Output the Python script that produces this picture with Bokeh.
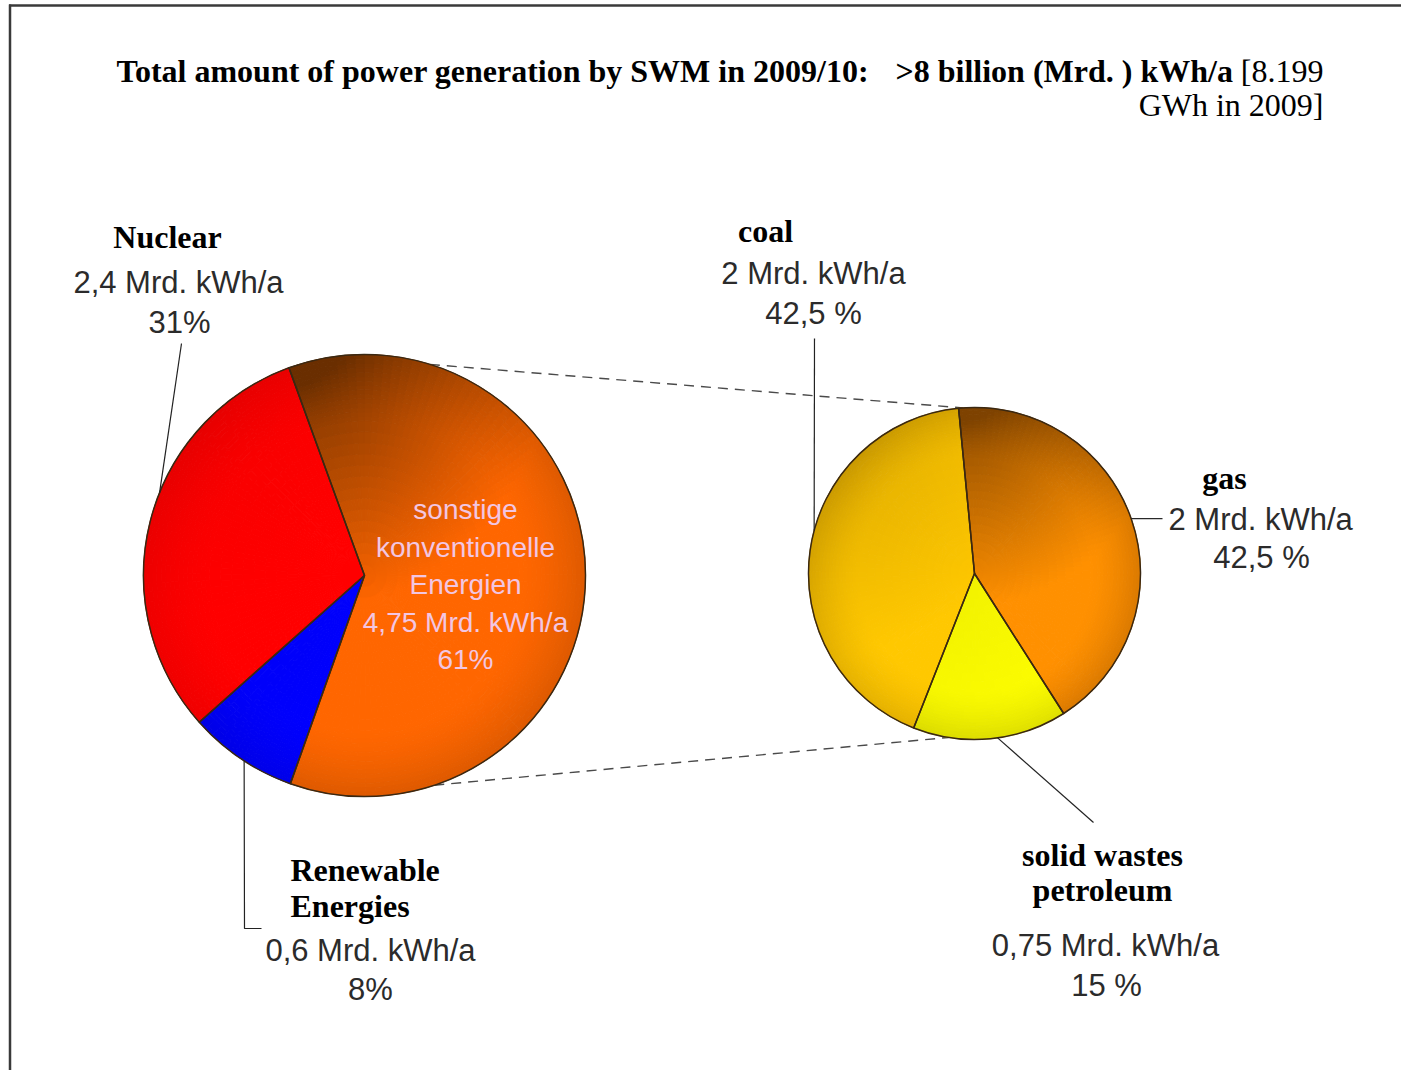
import math
import numpy as np
from bokeh.plotting import figure
from bokeh.models import Range1d
from bokeh.core.properties import value
from bokeh.embed import file_html
from bokeh.resources import INLINE

# ---------------- data ----------------
main_labels = [["Nuclear"], ["Renewable", "Energies"], ["sonstige", "konventionelle", "Energien"]]
main_amounts = [2.4, 0.6, 4.75]          # Mrd. kWh/a
main_shares = [31, 8, 61]                # %
sub_labels = [["coal"], ["solid wastes", "petroleum"], ["gas"]]
sub_amounts = [2, 0.75, 2]               # Mrd. kWh/a
sub_shares = [42.5, 15, 42.5]            # %
title_bold_1 = "Total amount of power generation by SWM in 2009/10:"
title_bold_2 = ">8 billion (Mrd. ) kWh/a"
title_reg_1 = "[8.199"
title_reg_2 = "GWh in 2009]"

# ---------------- layout / style ----------------
W, H = 1401, 1070


def Y(py):
    return H - py


p = figure(width=W, height=H, x_range=Range1d(0, W), y_range=Range1d(0, H),
           output_backend="svg", toolbar_location=None, x_axis_type=None, y_axis_type=None,
           min_border=0, min_border_left=0, min_border_right=0, min_border_top=0, min_border_bottom=0,
           outline_line_color=None, background_fill_color="white", border_fill_color="white")
p.grid.visible = False

SERIF = value("Liberation Serif")
SANS = value("Liberation Sans")


def hex2rgb(h):
    h = h.lstrip("#")
    return [int(h[i:i + 2], 16) for i in (0, 2, 4)]


def mix(c1, c2, t):
    a, b = hex2rgb(c1), hex2rgb(c2)
    return "#%02x%02x%02x" % tuple(int(round(a[i] + (b[i] - a[i]) * t)) for i in range(3))


def de(v):
    return f"{v:g}".replace(".", ",")


RADII = list(np.linspace(0, 0.7, 15)[:-1]) + list(np.linspace(0.7, 1.0, 16))


def draw_pie(cx, cy, R, values, start_deg, styles):
    total = float(sum(values))
    angles = []
    a = math.radians(start_deg)
    for v in values:
        e = a + 2 * math.pi * v / total
        angles.append((a, e))
        a = e
    cells = dict(x=[], y=[], ri=[], ro=[], s=[], e=[], c=[])
    for (a0, a1), st in zip(angles, styles):
        base, dark, ka, kd, kb = st
        ts = np.linspace(a0, a1, 200)
        xs = np.concatenate([[cx], cx + R * np.cos(ts)])
        ys = np.concatenate([[cy], cy + R * np.sin(ts)])
        kx, ky = xs.min(), ys.max()
        na = max(2, int(math.ceil((a1 - a0) / math.radians(2.5))))
        for i in range(na):
            s = a0 + (a1 - a0) * i / na
            e = a0 + (a1 - a0) * (i + 1) / na
            m = (s + e) / 2
            for j in range(len(RADII) - 1):
                ri = R * RADII[j]
                ro = R * RADII[j + 1]
                rm = (ri + ro) / 2
                px, py = cx + rm * math.cos(m), cy + rm * math.sin(m)
                d = math.hypot(px - kx, py - ky)
                t = ka * max(0.0, 1 - d / kd) + kb * max(0.0, (rm / R - 0.7) / 0.3) ** 1.5
                t = min(t, 1.0)
                cells["x"].append(cx); cells["y"].append(cy)
                cells["ri"].append(ri); cells["ro"].append(ro)
                cells["s"].append(s); cells["e"].append(e)
                cells["c"].append(mix(base, dark, t))
    p.annular_wedge(x="x", y="y", inner_radius="ri", outer_radius="ro", start_angle="s", end_angle="e",
                    fill_color="c", line_color="c", line_width=1, source=cells)
    p.wedge(x=[cx] * len(angles), y=[cy] * len(angles), radius=R,
            start_angle=[a[0] for a in angles], end_angle=[a[1] for a in angles],
            fill_color=None, line_color="#3a2812", line_width=1.5)
    return angles


def rim(cx, cy, R, deg):
    return cx + R * math.cos(math.radians(deg)), cy + R * math.sin(math.radians(deg))


# frame
p.line([9.5, 9.5], [Y(4), Y(H)], line_color="#3a3a3a", line_width=2.5)
p.line([8.5, W], [Y(5), Y(5)], line_color="#3a3a3a", line_width=2.5)

# pies
LCX, LCY, LR = 364, Y(575), 221
RCX, RCY, RR = 974, Y(573), 166

main_styles = [("#ff0000", "#a80000", 0.15, 260, 0.18),
               ("#0000ff", "#000090", 0.12, 200, 0.20),
               ("#ff6600", "#6a2e00", 1.00, 260, 0.22)]
sub_styles = [("#ffc800", "#a87c00", 0.45, 250, 0.30),
              ("#ffff00", "#a8a800", 0.20, 200, 0.36),
              ("#ff9000", "#7e4200", 0.90, 200, 0.28)]

# dashed connectors
for da, db in [(72.8, 94), (-71.6, 261)]:
    x0, y0 = rim(LCX, LCY, LR, da)
    x1, y1 = rim(RCX, RCY, RR, db)
    p.line([x0, x1], [y0, y1], line_color="#4a4a4a", line_width=1.4, line_dash="10 7")

draw_pie(LCX, LCY, LR, main_shares, 110, main_styles)
draw_pie(RCX, RCY, RR, sub_shares, 95.5, sub_styles)

# leader lines
LEAD = dict(line_color="#222222", line_width=1.2)
x0, y0 = rim(LCX, LCY, LR, 158)
p.line([181, x0], [Y(343), y0], **LEAD)
x0, y0 = rim(LCX, LCY, LR, 237)
p.line([x0, 244, 261], [y0, Y(928), Y(928)], **LEAD)
x0, y0 = rim(RCX, RCY, RR, 165)
p.line([814, x0], [Y(338), y0], **LEAD)
x0, y0 = rim(RCX, RCY, RR, 19.3)
p.line([x0, 1162], [y0, y0], **LEAD)
x0, y0 = rim(RCX, RCY, RR, 278)
p.line([x0, 1093], [y0, Y(822)], **LEAD)


def txt(x, y, s, font, size, bold=False, color="#000000", align="center"):
    p.text(x=[x], y=[Y(y)], text=[s], text_font=font, text_font_size=f"{size}px",
           text_font_style="bold" if bold else "normal", text_color=color,
           text_align=align, text_baseline="middle")


SB, SS = 32, 31
# title
txt(116, 70, title_bold_1, SERIF, SB, True, align="left")
txt(895, 70, title_bold_2, SERIF, SB, True, align="left")
txt(1323, 70, title_reg_1, SERIF, SB, False, align="right")
txt(1323, 104, title_reg_2, SERIF, SB, False, align="right")

GREY = "#2b2b2b"
# Nuclear
txt(167, 236, main_labels[0][0], SERIF, SB, True)
txt(178, 282, f"{de(main_amounts[0])} Mrd. kWh/a", SANS, SS, color=GREY)
txt(179, 322, f"{de(main_shares[0])}%", SANS, SS, color=GREY)
# Renewable
txt(290, 869, main_labels[1][0], SERIF, SB, True, align="left")
txt(290, 905, main_labels[1][1], SERIF, SB, True, align="left")
txt(370, 950, f"{de(main_amounts[1])} Mrd. kWh/a", SANS, SS, color=GREY)
txt(370, 989, f"{de(main_shares[1])}%", SANS, SS, color=GREY)
# sonstige (inside pie)
PINK = "#f2c6e2"
inner = main_labels[2] + [f"{de(main_amounts[2])} Mrd. kWh/a", f"{de(main_shares[2])}%"]
for k, s in enumerate(inner):
    txt(465, 509 + k * 37.5, s, SANS, 28, color=PINK)
# coal
txt(765, 230, sub_labels[0][0], SERIF, SB, True)
txt(813, 273, f"{de(sub_amounts[0])} Mrd. kWh/a", SANS, SS, color=GREY)
txt(813, 313, f"{de(sub_shares[0])} %", SANS, SS, color=GREY)
# gas
txt(1224, 477, sub_labels[2][0], SERIF, SB, True)
txt(1168, 519, f"{de(sub_amounts[2])} Mrd. kWh/a", SANS, SS, color=GREY, align="left")
txt(1261, 557, f"{de(sub_shares[2])} %", SANS, SS, color=GREY)
# solid wastes
txt(1102, 854, sub_labels[1][0], SERIF, SB, True)
txt(1102, 889, sub_labels[1][1], SERIF, SB, True)
txt(1105, 945, f"{de(sub_amounts[1])} Mrd. kWh/a", SANS, SS, color=GREY)
txt(1106, 985, f"{de(sub_shares[1])} %", SANS, SS, color=GREY)

open("out.html", "w").write(file_html(p, INLINE))
